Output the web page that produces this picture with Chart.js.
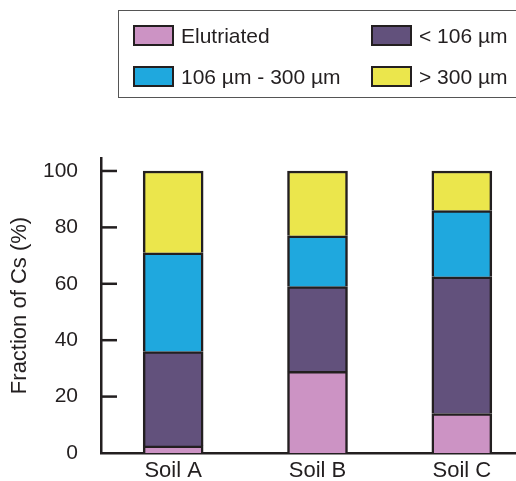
<!DOCTYPE html>
<html>
<head>
<meta charset="utf-8">
<script src="https://cdn.jsdelivr.net/npm/chart.js@4/dist/chart.umd.min.js"></script>
<style>
  body { margin: 0; overflow: hidden; background: #fff; font-family: "Liberation Sans", Arial, sans-serif; }
  #wrap { position: relative; width: 534px; height: 481px; }
  #chart { display: block; position: absolute; left: 0; top: 0; }
  #legend {
    position: absolute; left: 118px; top: 10px; width: 420px; height: 88px;
    border: 1.5px solid #555; box-sizing: border-box;
  }
  .item { position: absolute; display: flex; align-items: center; font-size: 21px; color: #231f20; white-space: nowrap; }
  .sw { width: 41px; height: 21px; box-sizing: border-box; border: 2px solid #231f20; margin-right: 7px; }
</style>
</head>
<body>
<div id="wrap">
  <canvas id="chart" width="534" height="481"></canvas>
  <div id="legend"></div>
</div>
<script>
const categories = ['Soil A', 'Soil B', 'Soil C'];
const elutriated = [2.5, 29, 14];
const under106 = [33.5, 30, 48.5];
const mid106to300 = [35, 18, 23.5];
const over300 = [29, 23, 14];
const yTicks = [0, 20, 40, 60, 80, 100];

const ink = '#231f20';

const seriesLabels = ['Elutriated', '< 106 µm', '106 µm - 300 µm', '> 300 µm'];
const seriesColors = ['#cc93c4', '#62517c', '#1fa8de', '#ebe64c'];
const seriesData = [elutriated, under106, mid106to300, over300];

// ticks pointing inward from the y axis
const innerTicks = {
  id: 'innerTicks',
  afterDraw(chart) {
    const y = chart.scales.y;
    const ctx = chart.ctx;
    const left = chart.chartArea.left;
    ctx.save();
    ctx.strokeStyle = ink;
    ctx.lineWidth = 2.5;
    yTicks.forEach(v => {
      if (v === 0) return;
      const py = y.getPixelForValue(v);
      ctx.beginPath();
      ctx.moveTo(left, py);
      ctx.lineTo(left + 16, py);
      ctx.stroke();
    });
    ctx.restore();
  }
};

const chart = new Chart(document.getElementById('chart'), {
  type: 'bar',
  data: {
    labels: categories,
    datasets: seriesData.map((d, i) => ({
      label: seriesLabels[i],
      data: d,
      backgroundColor: seriesColors[i],
      borderColor: ink,
      borderWidth: 2.5,
      barThickness: 60
    }))
  },
  options: {
    responsive: false,
    animation: false,
    layout: { padding: { top: 158, left: 0, right: 0, bottom: 0 } },
    plugins: { legend: { display: false }, tooltip: { enabled: false } },
    scales: {
      x: {
        stacked: true,
        grid: { display: false, drawTicks: false },
        border: { display: true, color: ink, width: 2.5 },
        ticks: { color: ink, padding: 5, font: { family: 'Liberation Sans', size: 22 } },
        afterFit(scale) { scale.height = 28; }
      },
      y: {
        stacked: true,
        min: 0,
        max: 104.6,
        grid: { display: false, drawTicks: false },
        border: { display: true, color: ink, width: 2.5 },
        afterBuildTicks(scale) { scale.ticks = yTicks.map(v => ({ value: v })); },
        ticks: { color: ink, padding: 23, font: { family: 'Liberation Sans', size: 21 } },
        title: {
          display: true,
          text: 'Fraction of Cs (%)',
          color: ink,
          padding: { top: 7, bottom: 0 },
          font: { family: 'Liberation Sans', size: 22 }
        },
        afterFit(scale) {
          scale.width = 101;
          scale.paddingTop = 0;
          scale.paddingBottom = 0;
        }
      }
    }
  },
  plugins: [innerTicks]
});

// legend box, two columns
const legend = document.getElementById('legend');
const colX = [14, 252];
const rowY = [14, 55];
chart.data.datasets.forEach((ds, i) => {
  const item = document.createElement('div');
  item.className = 'item';
  item.style.left = colX[i % 2] + 'px';
  item.style.top = (rowY[Math.floor(i / 2)] - 2) + 'px';
  item.style.height = '25px';
  item.innerHTML = '<span class="sw" style="background:' + ds.backgroundColor + '"></span><span>' + ds.label + '</span>';
  legend.appendChild(item);
});
</script>
</body>
</html>
